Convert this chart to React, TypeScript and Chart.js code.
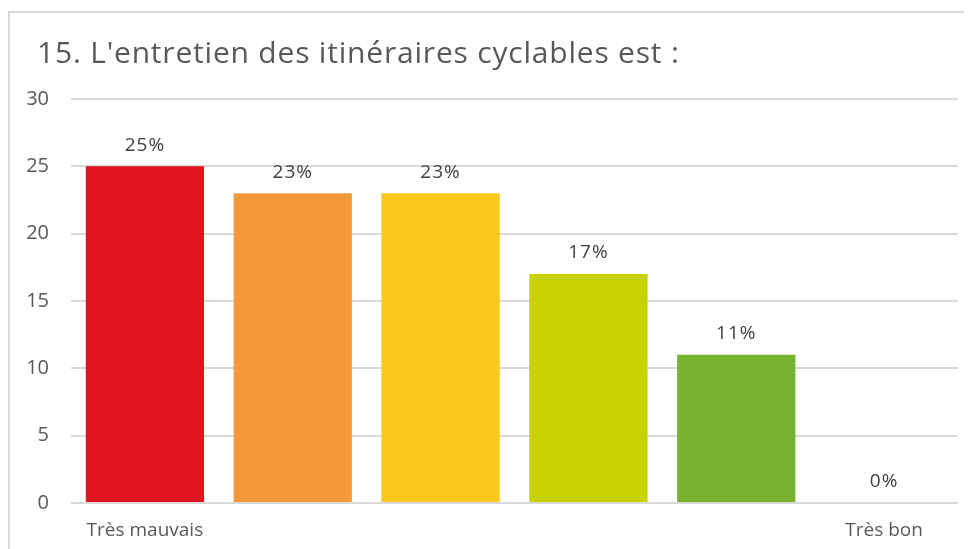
import React, { useEffect, useRef } from "react";
import { Chart, registerables } from "chart.js";

Chart.register(...registerables);

const TITLE = "15. L'entretien des itinéraires cyclables est :";
const categories = ["Très mauvais", "", "", "", "", "Très bon"];
const values = [25, 23, 23, 17, 11, 0];
const percentLabels = ["25%", "23%", "23%", "17%", "11%", "0%"];
const barColors = ["#E2141F", "#F29A39", "#FCC81B", "#C8D200", "#77B32F", "#A0A0A0"];
const yTicks = [0, 5, 10, 15, 20, 25, 30];

const FONT = "'Open Sans', 'DejaVu Sans', sans-serif";

const titleAndLabels = {
  id: "titleAndLabels",
  afterDatasetsDraw(chart: any) {
    const ctx = chart.ctx;
    ctx.save();
    ctx.fillStyle = "#595959";
    ctx.font = `30px ${FONT}`;
    ctx.letterSpacing = "0.8px";
    ctx.textAlign = "left";
    ctx.textBaseline = "middle";
    ctx.fillText(TITLE, 29, 46);
    const meta = chart.getDatasetMeta(0);
    ctx.font = `19px ${FONT}`;
    ctx.letterSpacing = "1px";
    ctx.fillStyle = "#404040";
    ctx.textAlign = "center";
    meta.data.forEach((bar: any, i: number) => {
      ctx.fillText(percentLabels[i], bar.x, bar.y - 21);
    });
    ctx.restore();
  },
};

export default function App() {
  const ref = useRef<HTMLCanvasElement>(null);
  useEffect(() => {
    const chart = new Chart(ref.current!, {
      type: "bar",
      data: {
        labels: categories,
        datasets: [
          {
            data: values,
            backgroundColor: barColors,
            categoryPercentage: 0.8,
            barPercentage: 1,
          },
        ],
      },
      options: {
        animation: false,
        responsive: false,
        layout: { padding: { top: 91, right: 14, left: 0, bottom: 0 } },
        plugins: { legend: { display: false }, tooltip: { enabled: false } },
        scales: {
          x: {
            grid: { display: false, drawTicks: false },
            border: { display: false },
            ticks: {
              color: "#595959",
              font: { family: FONT, size: 19 },
              padding: 16,
              autoSkip: false,
              maxRotation: 0,
            },
            afterFit: (s: any) => {
              s.height = 46;
            },
          },
          y: {
            min: 0,
            max: 30,
            afterBuildTicks: (s: any) => {
              s.ticks = yTicks.map((v) => ({ value: v }));
            },
            grid: { color: "#D9D9D9", lineWidth: 2, drawTicks: false },
            border: { display: false },
            ticks: {
              color: "#595959",
              font: { family: FONT, size: 20 },
              padding: 22,
            },
            afterFit: (s: any) => {
              s.width = 63;
            },
          },
        },
      },
      plugins: [titleAndLabels],
    });
    return () => chart.destroy();
  }, []);
  return (
    <div style={{ position: "relative", width: 964, height: 541, overflow: "hidden" }}>
      <div
        style={{
          position: "absolute",
          left: 0,
          top: 3,
          width: 1200,
          height: 1200,
          border: "2px solid #D9D9D9",
          boxSizing: "border-box",
        }}
      />
      <canvas ref={ref} width={964} height={541} style={{ position: "absolute", left: 0, top: 0 }} />
    </div>
  );
}
